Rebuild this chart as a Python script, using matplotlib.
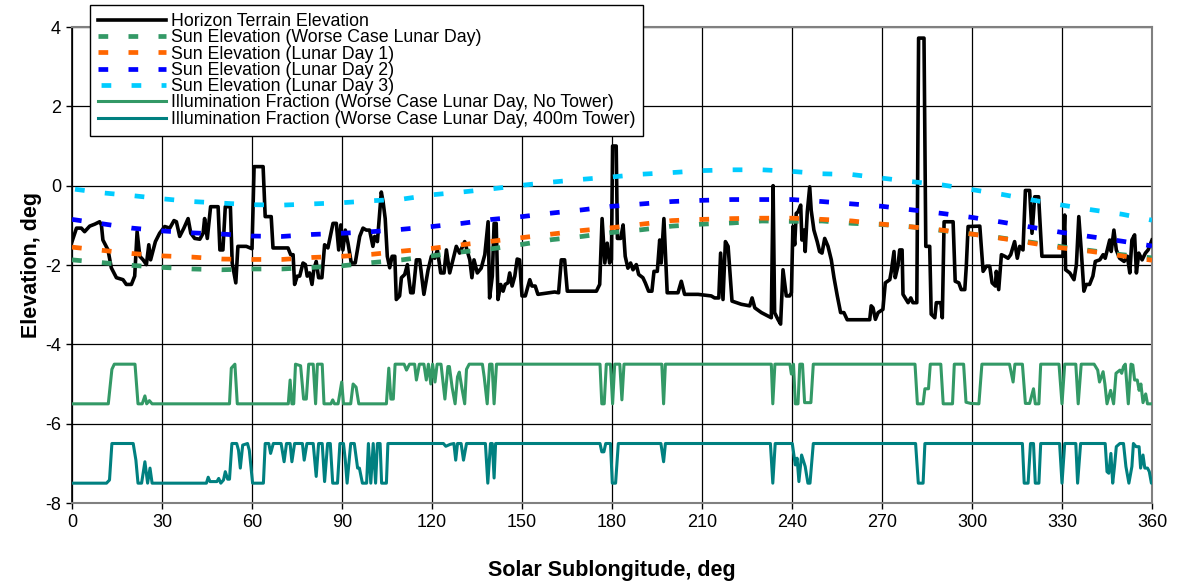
import matplotlib
matplotlib.use("Agg")
import matplotlib.pyplot as plt

plt.rcParams['font.family'] = ['Liberation Sans', 'DejaVu Sans']
plt.rcParams['lines.scale_dashes'] = False
plt.rcParams['axes.unicode_minus'] = False

# horizon terrain elevation (deg) vs solar sublongitude (deg)
horizon_lon = [
    0, 1.5, 3.1, 4.2, 5.9, 7.6, 9.2, 9.8, 10.3, 12,
    13.1, 14.8, 17, 18.1, 19.8, 20.9, 21.7, 22.6, 23.7, 24.8,
    25.6, 26.2, 27.8, 29.2, 30.9, 32.6, 34, 34.8, 35.9, 37.3,
    38.7, 39.6, 40.9, 42.6, 43.7, 44.2, 45.1, 46.2, 48.7, 49.3,
    50.3, 51.1, 52.8, 53.4, 54.6, 55.3, 58.1, 60, 60.7, 63.7,
    64.4, 66.4, 67, 72, 72.9, 73.7, 74.2, 75.1, 75.9, 77,
    77.8, 78.4, 79.2, 80, 80.6, 81.4, 82.2, 83.3, 84.2, 85.3,
    86.2, 87, 88.1, 88.9, 89.6, 90.3, 91.1, 92, 93.1, 94.4,
    95.9, 97, 98.1, 99.2, 100.3, 100.9, 101.8, 102.6, 103.1, 103.7,
    104.4, 105.1, 105.9, 106.7, 107.6, 108.1, 109.2, 109.8, 110.9, 111.8,
    112.2, 112.9, 113.7, 114.8, 115.9, 117.3, 118.7, 119.8, 120.9, 121.8,
    122.9, 124, 124.8, 125.9, 127, 128.1, 129.2, 130.9, 131.8, 132.6,
    133.3, 134, 135.1, 136.4, 137.6, 138.7, 139.2, 140.1, 140.7, 141.4,
    142, 142.9, 143.7, 144.4, 145.3, 145.9, 146.7, 147.6, 148.4, 149.2,
    150, 151.1, 152.6, 153.3, 154.4, 155.3, 160.9, 162.2, 163.1, 164.2,
    165.1, 174.8, 175.9, 176.7, 177.6, 178.4, 179.2, 179.8, 180.2, 181.4,
    181.8, 182.9, 183.7, 184.4, 185.3, 186.2, 187, 188.1, 188.9, 190.3,
    191.1, 192.2, 193.3, 194, 195.1, 195.9, 196.4, 197.3, 198.4, 202,
    203.1, 204.2, 208.7, 213.1, 214.2, 215.6, 216.2, 217, 217.8, 218.7,
    220, 223.1, 225.9, 226.7, 227.6, 229.8, 233.1, 233.7, 234.2, 235.3,
    236.2, 237, 238.1, 239.2, 239.8, 240.3, 240.9, 241.4, 242, 242.9,
    243.3, 244, 244.4, 245.1, 245.9, 246.4, 247.3, 248.4, 249.2, 250,
    250.9, 252, 253.1, 254, 255.1, 256.2, 257.3, 258.4, 265.9, 266.4,
    267, 267.8, 268.7, 270.3, 271.1, 272.6, 273.1, 274, 274.4, 275.3,
    275.9, 276.7, 277, 278.7, 279.6, 280.3, 281.6, 282.2, 284.0, 284.6,
    285.9, 286.4, 287.6, 288.1, 289.6, 290.1, 290.7, 293.7, 294.4, 295.6,
    296.4, 297.6, 298.1, 298.7, 302.6, 303.7, 304.8, 305.9, 306.7, 307.8,
    308.1, 308.9, 309.8, 310.9, 312, 312.9, 314.2, 315.1, 315.9, 317,
    317.8, 319.2, 320, 320.9, 322.2, 323.3, 330.3, 330.9, 331.2, 332.6,
    334, 334.8, 335.6, 336.4, 337.3, 338.1, 339.2, 340.3, 341.1, 342.6,
    343.7, 344.4, 345.1, 345.9, 346.4, 347.3, 348.1, 349.2, 350.7, 351.8,
    352.6, 353.3, 354.2, 354.8, 355.6, 356.7, 357.8, 358.7, 359.8, 360,
]
horizon_elev = [
    -1.41, -1.07, -1.07, -1.16, -1.02, -0.97, -0.91, -0.99, -1.37, -1.62,
    -2.07, -2.32, -2.37, -2.49, -2.49, -2.28, -1.16, -1.78, -1.87, -1.99,
    -1.49, -1.87, -1.41, -1.2, -1.03, -1.07, -0.88, -0.91, -1.28, -1.07,
    -0.83, -1.2, -1.33, -1.35, -1.2, -0.83, -1.33, -0.53, -0.53, -1.62,
    -1.62, -0.53, -0.53, -1.95, -2.45, -1.53, -1.53, -1.59, 0.48, 0.48,
    -0.78, -0.78, -1.57, -1.57, -1.74, -1.74, -2.49, -2.28, -2.28, -1.95,
    -1.99, -2.28, -2.2, -2.49, -2.12, -1.91, -2.32, -2.32, -1.49, -1.57,
    -1.24, -0.95, -0.95, -1.62, -0.99, -1.62, -1.12, -1.45, -1.95, -1.95,
    -1.28, -1.07, -1.12, -1.12, -1.53, -1.28, -1.41, -0.66, -0.16, -0.41,
    -0.83, -1.78, -2.07, -1.78, -1.78, -2.87, -2.78, -2.32, -2.24, -1.99,
    -2.28, -2.7, -2.7, -1.87, -1.87, -2.74, -2.12, -1.78, -1.83, -1.62,
    -2.2, -2.2, -1.62, -2.2, -1.87, -1.53, -1.7, -1.41, -1.66, -1.87,
    -2.32, -1.87, -2.2, -2.08, -1.74, -0.91, -2.83, -2.28, -0.95, -0.95,
    -2.87, -2.49, -2.66, -2.49, -2.45, -2.2, -2.53, -2.28, -1.85, -1.87,
    -2.78, -2.78, -2.37, -2.53, -2.53, -2.74, -2.68, -2.7, -1.87, -1.87,
    -2.66, -2.66, -2.49, -0.83, -1.95, -1.45, -1.95, -1.87, 1.0, 1.0,
    -1.33, -1.33, -0.99, -1.78, -2.08, -1.95, -2.12, -1.99, -2.24, -2.32,
    -2.45, -2.66, -2.66, -2.16, -2.16, -1.37, -1.95, -0.83, -2.7, -2.7,
    -2.41, -2.74, -2.74, -2.78, -2.83, -2.83, -1.7, -2.87, -1.41, -1.53,
    -2.91, -2.99, -3.03, -2.83, -3.08, -3.2, -3.33, 0.0, -3.2, -3.37,
    -3.49, -2.12, -2.78, -2.78, -2.7, -1.03, -1.49, -0.7, -0.66, -0.49,
    -1.37, -1.12, -1.66, -0.66, -0.03, -0.62, -1.12, -1.41, -1.66, -1.7,
    -1.33, -1.53, -1.87, -2.32, -2.78, -3.2, -3.2, -3.38, -3.38, -3.03,
    -3.08, -3.37, -3.2, -3.12, -2.45, -2.37, -2.16, -1.66, -2.32, -2.03,
    -1.62, -1.62, -2.74, -2.95, -2.83, -2.95, -2.95, 3.72, 3.72, -1.53,
    -1.53, -3.24, -3.33, -2.95, -2.95, -3.33, -0.91, -0.91, -2.41, -2.45,
    -2.62, -2.62, -2.03, -1.03, -1.02, -2.16, -2.03, -2.03, -2.45, -2.53,
    -2.16, -2.62, -1.74, -1.78, -1.83, -1.74, -1.41, -1.83, -1.53, -1.62,
    -0.12, -0.12, -1.2, -0.28, -0.28, -1.78, -1.78, -0.74, -2.12, -2.2,
    -2.37, -1.99, -0.78, -1.62, -2.66, -2.49, -2.49, -2.28, -1.91, -1.87,
    -1.74, -1.83, -1.62, -1.37, -1.66, -1.12, -1.62, -1.83, -1.91, -1.78,
    -2.2, -1.37, -1.24, -2.2, -1.7, -1.87, -1.7, -1.62, -1.41, -1.37,
]

# sun elevation (deg), every 10 deg of sublongitude
sun_lon = list(range(0, 361, 10))
sun_worst = [
    -1.87, -1.94, -2.01, -2.06, -2.1, -2.12, -2.1, -2.1, -2.06, -2.02,
    -1.94, -1.87, -1.77, -1.67, -1.59, -1.48, -1.36, -1.28, -1.18, -1.11,
    -1.02, -0.97, -0.94, -0.89, -0.9, -0.89, -0.95, -0.98, -1.04, -1.13,
    -1.22, -1.32, -1.43, -1.54, -1.64, -1.74, -1.82,
]
sun_day1 = [
    -1.55, -1.63, -1.71, -1.77, -1.8, -1.85, -1.86, -1.86, -1.81, -1.78,
    -1.73, -1.65, -1.58, -1.49, -1.4, -1.31, -1.22, -1.13, -1.06, -0.97,
    -0.88, -0.85, -0.83, -0.82, -0.82, -0.85, -0.89, -0.97, -1.04, -1.12,
    -1.22, -1.33, -1.45, -1.57, -1.66, -1.77, -1.88,
]
sun_day2 = [
    -0.85, -0.96, -1.07, -1.14, -1.19, -1.22, -1.27, -1.28, -1.23, -1.2,
    -1.16, -1.1, -1.03, -0.95, -0.85, -0.78, -0.69, -0.61, -0.52, -0.46,
    -0.4, -0.37, -0.35, -0.35, -0.35, -0.4, -0.46, -0.52, -0.61, -0.7,
    -0.8, -0.92, -1.05, -1.18, -1.29, -1.4, -1.52,
]
sun_day3 = [
    -0.08, -0.18, -0.25, -0.33, -0.4, -0.44, -0.48, -0.49, -0.46, -0.43,
    -0.38, -0.34, -0.23, -0.16, -0.08, 0.01, 0.09, 0.16, 0.22, 0.29,
    0.33, 0.38, 0.4, 0.4, 0.36, 0.3, 0.28, 0.19, 0.1, 0.02,
    -0.1, -0.22, -0.36, -0.49, -0.61, -0.72, -0.87,
]

# illumination fraction (0..1), drawn shifted below the elevation curves
illum_nt_lon = [
    0, 12.1, 13.3, 14.1, 21, 22, 23.4, 24.3, 24.9, 25.8,
    26.7, 52.5, 53.1, 54.3, 55.1, 72.1, 72.7, 73.3, 73.9, 74.5,
    76.2, 77.2, 78.1, 78.9, 80.4, 81.2, 81.8, 83.4, 84, 86.3,
    86.9, 87.5, 88.7, 89.9, 90.5, 92.9, 93.7, 94.7, 95.6, 104.8,
    105.6, 106.3, 107.1, 107.7, 110.7, 111.5, 112.5, 114.2, 114.8, 115.8,
    117.3, 118.1, 118.8, 119.6, 120.2, 121, 121.7, 123, 124.3, 125.3,
    125.8, 126.7, 127.7, 128.5, 129.1, 130, 130.9, 131.5, 132.4, 136.8,
    137.4, 138.4, 139.2, 140, 140.7, 141.5, 176, 176.6, 177.4, 178.1,
    179.5, 180.2, 180.9, 182.6, 183.3, 184, 196.6, 197.2, 197.8, 233.1,
    233.6, 234.3, 239.3, 239.8, 240.5, 241.1, 242, 242.6, 243.5, 244.2,
    246.3, 247.1, 281, 281.8, 283.7, 284.3, 285.5, 286.1, 289.6, 290.4,
    293.5, 294.1, 297.2, 298, 299.6, 302.3, 303.3, 312.5, 313.7, 314.3,
    316.8, 317.8, 319.2, 320.5, 321.1, 322.3, 322.9, 329, 330, 330.9,
    334.6, 335.4, 336.4, 340.7, 341.9, 342.5, 343.7, 344.3, 345, 346.2,
    347.2, 348, 349.3, 349.9, 350.5, 351.1, 352.1, 353, 353.6, 354.2,
    355.1, 355.7, 356.3, 357, 357.9, 358.5, 360,
]
illum_nt_frac = [
    0, 0, 0.87, 1, 1, 0, 0, 0.2, 0, 0.08,
    0, 0, 0.9, 1, 0, 0, 0.6, 0, 0, 1,
    0.96, 0.12, 0.12, 1, 1, 0, 1, 1, 0, 0,
    0.1, 0, 0, 0.55, 0, 0, 0.5, 0.42, 0, 0,
    0.9, 0.12, 0.12, 1, 1, 0.85, 1, 1, 0.6, 1,
    1, 0.6, 1, 0.5, 1, 0.55, 1, 1, 0.12, 0.94,
    0.94, 0.42, 0, 0.68, 0.8, 0.38, 0, 0.87, 1, 1,
    0.68, 0, 1, 1, 0, 1, 1, 0, 0, 1,
    1, 0, 1, 1, 0.1, 1, 1, 0, 1, 1,
    0, 1, 1, 0.75, 1, 0, 0, 1, 1, 0.03,
    0.03, 1, 1, 0, 0, 0.38, 0.38, 1, 1, 0,
    0, 1, 1, 0.04, 0.01, 0, 1, 1, 0.55, 1,
    1, 0.01, 0.01, 0.38, 0, 0, 1, 1, 0, 1,
    1, 0, 1, 1, 0.85, 0.55, 0.81, 0.5, 0, 0.34,
    0, 0.77, 0.85, 0.77, 0.94, 1, 0, 1, 0.98, 0.6,
    0.6, 0.34, 0.5, 0.03, 0.25, 0, 0,
]
illum_400_lon = [
    0, 11.5, 12.5, 13.3, 20.4, 21.3, 22, 23.2, 24.3, 25.2,
    26, 26.7, 44.8, 45.4, 46, 48.3, 48.9, 49.6, 50.5, 51.1,
    51.9, 52.5, 53.3, 54.9, 55.5, 56.1, 56.9, 58.5, 59.1, 60.2,
    63.8, 64.4, 65.6, 66.2, 67.1, 69.7, 70.7, 71.5, 72.7, 73.3,
    74.2, 76.8, 77.4, 78.3, 80.4, 81.4, 82.2, 83.4, 84.2, 85.2,
    86.1, 86.9, 88.5, 89.3, 90.5, 91.1, 91.7, 92.9, 94.1, 95.2,
    95.8, 96.8, 98.2, 98.8, 99.6, 100.4, 101.2, 101.8, 102.7, 103.2,
    104.8, 105.3, 123.8, 124.6, 126.1, 127.3, 127.9, 128.5, 129.7, 130.5,
    131.5, 137.8, 138.6, 139.5, 140.1, 140.7, 141.2, 176, 176.6, 177.3,
    177.9, 179.5, 180.1, 181.2, 182.1, 196.3, 197.2, 197.8, 232.8, 233.6,
    234.4, 240.1, 241.1, 241.7, 242.3, 243.2, 244.4, 245.3, 246, 247.1,
    281.2, 282.1, 283.7, 284.3, 316.8, 317.4, 318.7, 319.5, 320.5, 321.1,
    322.3, 322.9, 329.2, 330, 330.9, 334.6, 335.2, 336.2, 344.4, 345,
    345.6, 346.3, 346.9, 347.5, 348.1, 349.3, 350.5, 351.3, 352.3, 353.3,
    353.8, 354.7, 355.7, 356.2, 357, 357.6, 358.5, 359.1, 359.8, 360,
]
illum_400_frac = [
    0, 0, 0.08, 1, 1, 0.58, 0, 0, 0.54, 0,
    0.38, 0, 0, 0.15, 0.04, 0.04, 0.12, 0, 0.08, 0.29,
    0.1, 0.1, 1, 1, 0.83, 0.38, 0.96, 1, 0.83, 0,
    0, 1, 1, 0.75, 1, 1, 0.54, 1, 1, 0.54,
    1, 1, 0.58, 1, 1, 0.17, 1, 1, 0.04, 1,
    1, 0, 0, 1, 1, 0.58, 0, 1, 1, 0.38,
    0.38, 0, 0, 1, 0, 1, 0, 1, 1, 0,
    0, 1, 1, 0.93, 0.98, 1, 0.58, 1, 1, 0.58,
    1, 1, 0, 1, 1, 0.13, 1, 1, 0.79, 0.79,
    1, 1, 0, 0, 1, 1, 0.54, 1, 1, 0,
    1, 1, 0.46, 0.63, 0.04, 0.71, 0.42, 0, 0, 1,
    1, 0, 0, 1, 1, 0, 0, 1, 1, 0,
    0, 1, 1, 0, 1, 1, 0, 1, 1, 0.29,
    0.25, 0.75, 0, 0.42, 0.92, 1, 1, 0.42, 0, 0.42,
    1, 0.92, 0.92, 0.38, 0.71, 0.38, 0.38, 0.29, 0, 0,
]
illum_nt_base = -5.5
illum_400_base = -7.5

fig = plt.figure(figsize=(11.78, 5.86), dpi=100)
ax = fig.add_axes([72 / 1178, 1 - 503 / 586, 1080 / 1178, 476 / 586])

sun_dash = (0, (7.0, 14.6))
ax.plot(horizon_lon, horizon_elev, color='black', lw=2.6, zorder=3,
        label='Horizon Terrain Elevation')
ax.plot(sun_lon, sun_worst, color='#339966', lw=3.4, ls=sun_dash, zorder=4,
        label='Sun Elevation (Worse Case Lunar Day)')
ax.plot(sun_lon, sun_day1, color='#FF6600', lw=3.4, ls=sun_dash, zorder=5,
        label='Sun Elevation (Lunar Day 1)')
ax.plot(sun_lon, sun_day2, color='#0000FF', lw=3.4, ls=sun_dash, zorder=6,
        label='Sun Elevation (Lunar Day 2)')
ax.plot(sun_lon, sun_day3, color='#00CCFF', lw=3.4, ls=(19.4, (7.0, 14.6)), zorder=7,
        label='Sun Elevation (Lunar Day 3)')
ax.plot(illum_nt_lon, [f + illum_nt_base for f in illum_nt_frac], color='#339966',
        lw=2.2, zorder=8, label='Illumination Fraction (Worse Case Lunar Day, No Tower)')
ax.plot(illum_400_lon, [f + illum_400_base for f in illum_400_frac], color='#008080',
        lw=2.2, zorder=9, label='Illumination Fraction (Worse Case Lunar Day, 400m Tower)')

ax.set_xlim(0, 360)
ax.set_ylim(-8, 4)
ax.set_xticks(range(0, 361, 30))
ax.set_yticks(range(-8, 5, 2))
ax.grid(True, color='black', lw=0.9)
ax.set_axisbelow(True)
ax.tick_params(direction='out', length=4, width=1, labelsize=13, pad=4)
for side in ['top', 'right', 'bottom']:
    ax.spines[side].set_color('#808080')
    ax.spines[side].set_linewidth(1.5)
ax.spines['left'].set_color('black')
ax.spines['left'].set_linewidth(1.2)

ax.set_xlabel('Solar Sublongitude, deg', fontsize=15.5, fontweight='bold', labelpad=21)
ax.set_ylabel('Elevation, deg', fontsize=15.5, fontweight='bold', labelpad=2)

leg = ax.legend(loc='upper left', bbox_to_anchor=(90 / 1178, 1 - 5 / 586),
                bbox_transform=fig.transFigure, borderaxespad=0, fontsize=12.8,
                labelspacing=-0.04, handlelength=3.8, handletextpad=0.3,
                borderpad=0.45, fancybox=False, framealpha=1, edgecolor='black')
leg.get_frame().set_linewidth(1.0)
leg.set_zorder(20)

fig.savefig('out.png', dpi=100)
